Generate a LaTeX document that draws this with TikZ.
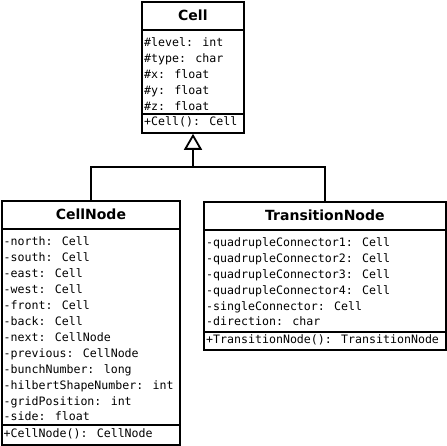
\documentclass[tikz,border=0pt]{standalone}
\usepackage{fontspec}
\usetikzlibrary{arrows.meta}
\newfontfamily\umlmono{DejaVu Sans Mono}
\newfontfamily\umltitle{DejaVu Sans}
\begin{document}
\begin{tikzpicture}[x=1pt,y=-1pt,
  part/.style={draw=black, line width=1.8pt, fill=white, inner sep=0pt, anchor=north west},
  ttl/.style={part, font=\umltitle\bfseries\fontsize{14}{16}\selectfont, text height=10.2pt, text depth=0pt},
  mono/.style={anchor=base west, inner sep=0pt, font=\umlmono\fontsize{11.6}{14}\selectfont},
  conn/.style={line width=1.8pt, draw=black}]
\useasboundingbox (0,0) rectangle (447,446);
% Cell
\node[ttl, minimum width=102pt, minimum height=28pt] (celltitle) at (141,1) {Cell};
\node[part, minimum width=102pt, minimum height=84pt] (cellattr) at (141,29) {};
\node[part, minimum width=102pt, minimum height=19pt] (cellmeth) at (141,113) {};
\foreach \t [count=\i from 0] in {{\#level: int},{\#type: char},{\#x: float},{\#y: float},{\#z: float}}
  \node[mono] (ca\i) at (144,{47+15.85*\i}) {\t};
\node[mono] (cm) at (144,125.5) {+Cell(): Cell};
% CellNode
\node[ttl, minimum width=178pt, minimum height=28pt] (cntitle) at (1,200) {CellNode};
\node[part, minimum width=178pt, minimum height=196pt] (cnattr) at (1,228) {};
\node[part, minimum width=178pt, minimum height=20pt] (cnmeth) at (1,424) {};
\foreach \t [count=\i from 0] in {{-north: Cell},{-south: Cell},{-east: Cell},{-west: Cell},{-front: Cell},{-back: Cell},{-next: CellNode},{-previous: CellNode},{-bunchNumber: long},{-hilbertShapeNumber: int},{-gridPosition: int},{-side: float}}
  \node[mono] (cna\i) at (3.5,{246+15.9*\i}) {\t};
\node[mono] (cnm) at (3.5,437) {+CellNode(): CellNode};
% TransitionNode
\node[ttl, minimum width=242pt, minimum height=28pt] (tntitle) at (203,201) {TransitionNode};
\node[part, minimum width=242pt, minimum height=102pt] (tnattr) at (203,229) {};
\node[part, minimum width=242pt, minimum height=18pt] (tnmeth) at (203,331) {};
\foreach \t [count=\i from 0] in {{-quadrupleConnector1: Cell},{-quadrupleConnector2: Cell},{-quadrupleConnector3: Cell},{-quadrupleConnector4: Cell},{-singleConnector: Cell},{-direction: char}}
  \node[mono] (tna\i) at (206,{246.5+15.9*\i}) {\t};
\node[mono] (tnm) at (206,343) {+TransitionNode(): TransitionNode};
% generalization
\coordinate (j) at (193,167);
\draw[conn, -{Triangle[open, length=16pt, width=18pt, line width=1.8pt]}] (j) -- (j |- cellmeth.south);
\draw[conn] (cntitle.north) |- (j) -| (tntitle.north);
\end{tikzpicture}
\end{document}
